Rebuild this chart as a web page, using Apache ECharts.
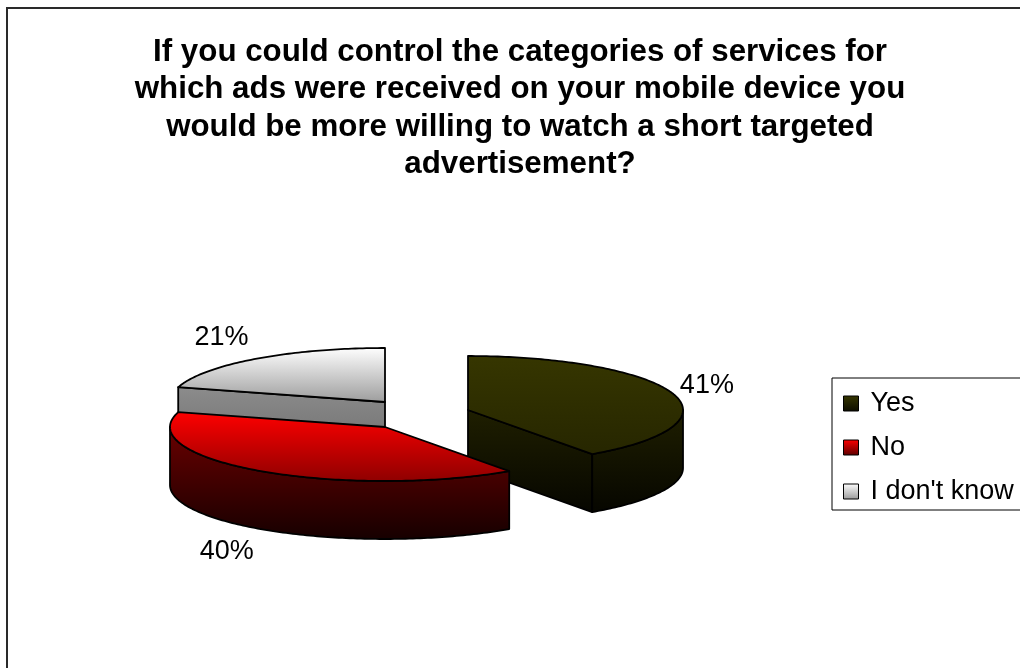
<!DOCTYPE html>
<html>
<head>
<meta charset="utf-8">
<script src="https://cdn.jsdelivr.net/npm/echarts@6/dist/echarts.min.js"></script>
<style>
  html, body { margin: 0; padding: 0; background: #ffffff; }
  #chart { width: 1020px; height: 668px; }
</style>
</head>
<body>
<div id="chart"></div>
<script>
// ---- data ----
const TITLE_LINES = [
  'If you could control the categories of services for',
  'which ads were received on your mobile device you',
  'would be more willing to watch a short targeted',
  'advertisement?'
];
const CATEGORIES = ['Yes', 'No', "I don't know"];
const PERCENTS = [41, 40, 21];

// ---- drawing style ----
const FONT = "'Liberation Sans', Arial, sans-serif";
const PIE = { cx: 385, cy: 402, rx: 215, ry: 54, depth: 58 };
const EXPLODE = [[83, 8], [0, 25], [0, 0]];        // per-slice pull-out, px
const FACE_COLORS = [                              // top face start/end, walls start/end
  ['#363600', '#262600', '#1f1f00', '#060600'],
  ['#ff0000', '#8e0000', '#6a0000', '#160000'],
  ['#ffffff', '#9c9c9c', '#8c8c8c', '#6c6c6c']
];
const LEGEND_COLORS = [['#363600', '#0d0d00'], ['#ff0000', '#5a0000'], ['#ffffff', '#9a9a9a']];

function grad(c0, c1) {
  return new echarts.graphic.LinearGradient(0, 0, 0, 1, [
    { offset: 0, color: c0 }, { offset: 1, color: c1 }
  ]);
}

const TOTAL = PERCENTS.reduce((s, v) => s + v, 0);

function sliceGeom(i, value) {
  let before = 0;
  for (let k = 0; k < i; k++) before += PERCENTS[k];
  const a0 = before / TOTAL * 2 * Math.PI;
  const a1 = (before + value) / TOTAL * 2 * Math.PI;
  const cx = PIE.cx + EXPLODE[i][0];
  const cy = PIE.cy + EXPLODE[i][1];
  const P = (a, d) => [cx + PIE.rx * Math.sin(a), cy - PIE.ry * Math.cos(a) + (d || 0)];
  const arc = (s, e, d) => {
    const n = Math.max(2, Math.ceil((e - s) / (Math.PI / 180)));
    const pts = [];
    for (let j = 0; j <= n; j++) pts.push(P(s + (e - s) * j / n, d));
    return pts;
  };
  return { a0, a1, cx, cy, P, arc };
}

// paint order: slices reaching further toward the viewer are drawn later
const FRONT_Y = PERCENTS.map((v, i) => {
  const g = sliceGeom(i, v);
  const ys = g.arc(g.a0, g.a1, PIE.depth).map(p => p[1]).concat([g.cy + PIE.depth]);
  return Math.max.apply(null, ys);
});
const RANK = FRONT_Y.map(y => FRONT_Y.filter(o => o < y).length);

function renderSlice(params, api) {
  const i = params.seriesIndex;
  const v = api.value(0);
  const g = sliceGeom(i, v);
  const D = PIE.depth;
  const col = FACE_COLORS[i];
  const z = RANK[i] * 10;
  const edge = { stroke: '#000', lineWidth: 1.8, lineJoin: 'round' };
  const children = [];

  const wall = (a) => {
    const p = g.P(a);
    return {
      type: 'polygon', z2: z + 1,
      shape: { points: [[g.cx, g.cy], p, [p[0], p[1] + D], [g.cx, g.cy + D]] },
      style: Object.assign({ fill: grad(col[2], col[3]) }, edge)
    };
  };
  // cut faces turned toward the viewer
  if (Math.sin(g.a0) < -1e-6) children.push(wall(g.a0));
  if (Math.sin(g.a1) > 1e-6) children.push(wall(g.a1));

  // front part of the rim
  const rs = Math.max(g.a0, Math.PI / 2), re = Math.min(g.a1, 1.5 * Math.PI);
  if (re > rs) {
    const top = g.arc(rs, re), bot = g.arc(rs, re, D).reverse();
    children.push({
      type: 'polygon', z2: z + 1,
      shape: { points: top.concat(bot) },
      style: Object.assign({ fill: grad(col[2], col[3]) }, edge)
    });
  }

  // top face
  children.push({
    type: 'polygon', z2: z + 2,
    shape: { points: [[g.cx, g.cy]].concat(g.arc(g.a0, g.a1)) },
    style: Object.assign({ fill: grad(col[0], col[1]) }, edge)
  });

  // percentage label outside the slice
  const am = (g.a0 + g.a1) / 2;
  const lp = g.P(am, Math.cos(am) < 0 ? D : 0);
  children.push({
    type: 'text', z2: z + 5,
    style: {
      text: v + '%',
      x: lp[0] + Math.sign(Math.sin(am)) * 34,
      y: lp[1] - Math.cos(am) * 27,
      fill: '#000', fontSize: 27, fontFamily: FONT,
      align: 'center', verticalAlign: 'middle'
    }
  });
  return { type: 'group', children };
}

const chart = echarts.init(document.getElementById('chart'), null, { renderer: 'canvas' });

chart.setOption({
  backgroundColor: '#ffffff',
  animation: false,
  title: {
    text: TITLE_LINES.join('\n'),
    left: 520,
    top: 33.5,
    padding: 0,
    textAlign: 'center',
    textStyle: {
      fontFamily: FONT, fontSize: 31.3, fontWeight: 'bold',
      color: '#000', lineHeight: 37.5
    }
  },
  legend: {
    orient: 'vertical',
    left: 832,
    top: 378,
    padding: [12, 60, 5, 11],
    borderColor: '#000',
    borderWidth: 1,
    itemWidth: 15,
    itemHeight: 15,
    itemGap: 17,
    selectedMode: false,
    textStyle: {
      fontFamily: FONT, fontSize: 27, color: '#000', lineHeight: 26,
      padding: [0, 0, 0, 7]
    },
    data: CATEGORIES.map((name, i) => ({
      name,
      icon: 'rect',
      itemStyle: {
        color: grad(LEGEND_COLORS[i][0], LEGEND_COLORS[i][1]),
        borderColor: '#000', borderWidth: 1
      }
    }))
  },
  graphic: [{
    type: 'polyline',
    silent: true,
    shape: { points: [[7, 700], [7, 8], [1100, 8]] },
    style: { stroke: '#2a2a2a', lineWidth: 2, fill: null }
  }],
  series: CATEGORIES.map((name, i) => ({
    type: 'custom',
    name,
    coordinateSystem: 'none',
    silent: true,
    itemStyle: { color: grad(LEGEND_COLORS[i][0], LEGEND_COLORS[i][1]) },
    renderItem: renderSlice,
    data: [[PERCENTS[i]]]
  }))
});
</script>
</body>
</html>
